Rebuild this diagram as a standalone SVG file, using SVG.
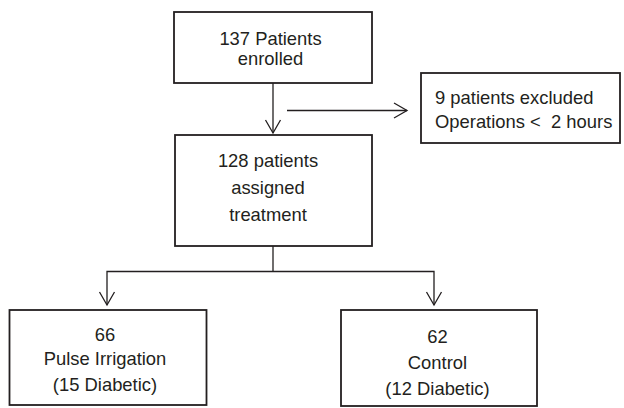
<svg xmlns="http://www.w3.org/2000/svg" width="624" height="408" viewBox="0 0 624 408">
<style>
.box{fill:#fff;stroke:#231f20;stroke-width:1.8}
.t{font-family:"Liberation Sans",Arial,sans-serif;font-size:18.4px;fill:#231f20;text-anchor:middle;white-space:pre}
.tl{text-anchor:start}
.c{fill:none;stroke:#231f20;stroke-width:1.3}
</style>
<defs>
<marker id="arr" markerUnits="userSpaceOnUse" markerWidth="20" markerHeight="20" viewBox="-15 -10 17 20" refX="0" refY="0" orient="auto">
<path d="M-13,-7.5 L0,0 L-13,7.5" fill="none" stroke="#231f20" stroke-width="1.3"/>
</marker>
</defs>
<rect width="624" height="408" fill="#fff"/>
<g id="connectors">
<line class="c" x1="273" y1="83" x2="273" y2="133" marker-end="url(#arr)"/>
<line class="c" x1="287" y1="110.5" x2="407" y2="110.5" marker-end="url(#arr)"/>
<polyline class="c" points="273,246 273,271.5"/>
<polyline class="c" points="273,271.5 107,271.5 107,305" marker-end="url(#arr)"/>
<polyline class="c" points="273,271.5 434,271.5 434,305" marker-end="url(#arr)"/>
</g>
<g id="enrolled">
<rect class="box" x="174" y="12" width="198" height="71"/>
<text class="t" x="270.5" y="44.5">137 Patients</text>
<text class="t" x="270.5" y="65">enrolled</text>
</g>
<g id="excluded">
<rect class="box" x="421" y="73" width="199" height="70"/>
<text class="t tl" x="435" y="104">9 patients excluded</text>
<text class="t tl" x="435" y="128">Operations &lt;  2 hours</text>
</g>
<g id="assigned">
<rect class="box" x="175" y="135" width="197" height="111"/>
<text class="t" x="268" y="166.5">128 patients</text>
<text class="t" x="268" y="193.5">assigned</text>
<text class="t" x="268" y="221">treatment</text>
</g>
<g id="pulse">
<rect class="box" x="9.5" y="310" width="197" height="95"/>
<text class="t" x="105" y="340.5">66</text>
<text class="t" x="105" y="365">Pulse Irrigation</text>
<text class="t" x="105" y="390.5">(15 Diabetic)</text>
</g>
<g id="control">
<rect class="box" x="341" y="310" width="196" height="96"/>
<text class="t" x="437.5" y="343">62</text>
<text class="t" x="437.5" y="369">Control</text>
<text class="t" x="437.5" y="394.5">(12 Diabetic)</text>
</g>
</svg>
